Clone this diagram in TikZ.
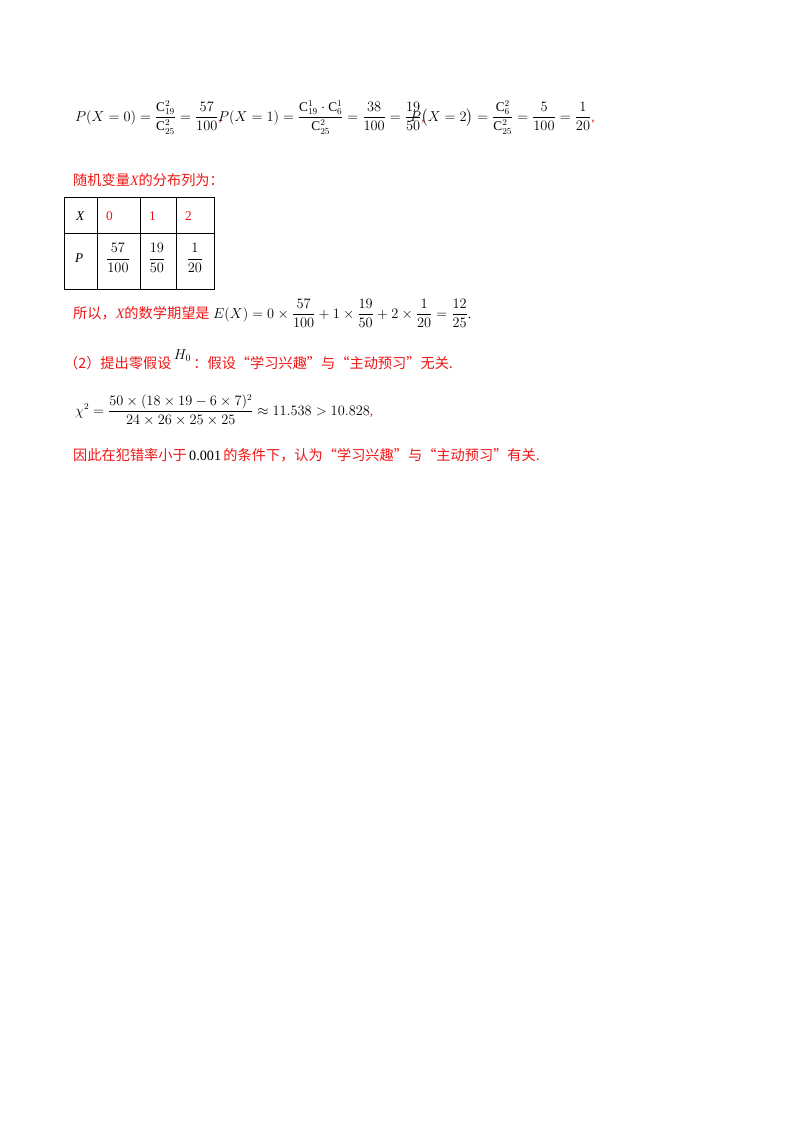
\documentclass[tikz,border=0pt]{standalone}
\usepackage{amsmath}
\usepackage{fontspec}
\setmainfont{Liberation Serif}
\newfontfamily\cjk{Noto Sans CJK SC}
\newfontfamily\serif{Liberation Serif}
\newcommand{\vX}{{\serif\itshape X}}
\definecolor{ansred}{RGB}{240,20,20}
\begin{document}
\begin{tikzpicture}[x=1pt,y=-1pt,
  txt/.style={anchor=base west,inner sep=0pt,font=\fontsize{13.3}{15}\selectfont},
  red/.style={txt,text=ansred,font=\fontsize{14.2}{16}\selectfont\cjk},
  cell/.style={draw,line width=1pt}]
\useasboundingbox (0,0) rectangle (800,1132);
\node[txt] (l1a) at (75,121) {$P(X=0)=\dfrac{\mathrm{C}_{19}^{2}}{\mathrm{C}_{25}^{2}}=\dfrac{57}{100}$\textcolor{ansred}{,}};
\node[txt] (l1b) at (218,121) {$P(X=1)=\dfrac{\mathrm{C}_{19}^{1}\cdot\mathrm{C}_{6}^{1}}{\mathrm{C}_{25}^{2}}=\dfrac{38}{100}=\dfrac{19}{50}$\textcolor{ansred}{,}};
\node[txt] (l1c) at (410,121) {$P\bigl(X=2\bigr)=\dfrac{\mathrm{C}_{6}^{2}}{\mathrm{C}_{25}^{2}}=\dfrac{5}{100}=\dfrac{1}{20}$\textcolor{ansred}{,}};
\node[red] (t1) at (73,185) {随机变量\vX 的分布列为：};
% table
\draw[cell] (64,197) rectangle (214,289);
\draw[cell] (64,233) -- (214,233);
\foreach \x in {97,140,176} \draw[cell] (\x,197) -- (\x,289);
\node[txt] (cx) at (76,220) {\textit{X}};
\node[txt,text=ansred] (c0) at (106,220) {0};
\node[txt,text=ansred] (c1) at (149,220) {1};
\node[txt,text=ansred] (c2) at (185,220) {2};
\node[txt] (cp) at (75,262) {\textit{P}};
\node[txt,anchor=center] (p0) at (118,258) {$\dfrac{57}{100}$};
\node[txt,anchor=center] (p1) at (157,258) {$\dfrac{19}{50}$};
\node[txt,anchor=center] (p2) at (195,258) {$\dfrac{1}{20}$};
\node[red] (t2) at (73,318) {所以，\vX 的数学期望是};
\node[txt] (ex) at (213,318) {$E(X)=0\times\dfrac{57}{100}+1\times\dfrac{19}{50}+2\times\dfrac{1}{20}=\dfrac{12}{25}$.};
\node[red] (t3) at (64,368) {（2）提出零假设\,\raisebox{9pt}{\textcolor{black}{$H_0$}}\,：假设“学习兴趣”与“主动预习”无关.};
\node[txt] (chi) at (75,415) {$\chi^2=\dfrac{50\times(18\times19-6\times7)^2}{24\times26\times25\times25}\approx11.538>10.828$\textcolor{ansred}{,}};
\node[red] (t4) at (73,460) {因此在犯错率小于\,\textcolor{black}{\serif 0.001}\,的条件下，认为“学习兴趣”与“主动预习”有关.};
\end{tikzpicture}
\end{document}
